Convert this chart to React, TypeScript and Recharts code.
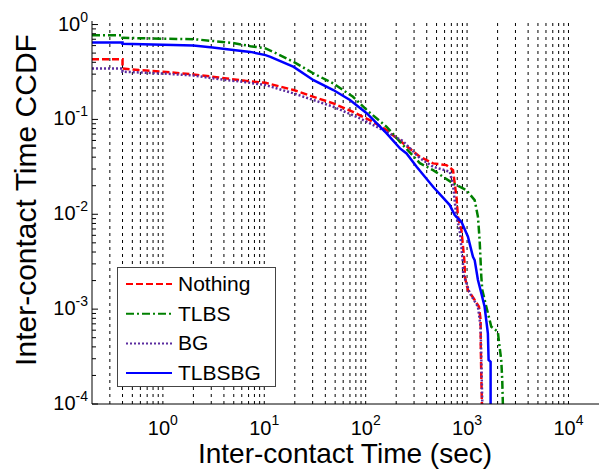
import React from "react";
import { LineChart, Line, XAxis, YAxis, ReferenceLine, Legend, Label } from "recharts";

// [inter-contact time (sec), CCDF]
const nothing = [
  [0.2, 0.432], [0.4, 0.432], [0.4, 0.344], [0.58, 0.331], [1, 0.318], [2, 0.298],
  [3.55, 0.277], [6.5, 0.255], [10.3, 0.243], [11.5, 0.236], [19.5, 0.204], [30.6, 0.173],
  [48, 0.1475], [75, 0.12], [118, 0.0944], [161, 0.0771], [218, 0.0595], [342, 0.0404],
  [462, 0.0344], [626, 0.033], [727, 0.0292], [755, 0.0212], [785, 0.0153], [813, 0.0094],
  [879, 0.00682], [946, 0.00304], [950, 0.00219], [1020, 0.00159], [1188, 0.00125],
  [1310, 0.00106], [1360, 0.000767], [1365, 0.000402], [1382, 0.000194], [1400, 0.0001],
];

const tlbs = [
  [0.2, 0.773], [0.4, 0.773], [0.4, 0.724], [1, 0.71], [2, 0.702], [4.87, 0.641],
  [7.3, 0.592], [10.3, 0.56], [13, 0.5], [19.5, 0.404], [30.6, 0.305], [48, 0.239],
  [75, 0.173], [103, 0.125], [161, 0.0836], [218, 0.058], [342, 0.0346], [462, 0.0292],
  [727, 0.0212], [984, 0.018], [1188, 0.0141], [1280, 0.0094], [1330, 0.00535],
  [1382, 0.00219], [1413, 0.00159], [1548, 0.00106], [1733, 0.000653], [2011, 0.000578],
  [2090, 0.000402], [2173, 0.000291], [2222, 0.000179], [2254, 0.0001],
];

const bg = [
  [0.2, 0.344], [0.4, 0.344], [0.4, 0.318], [1, 0.305], [2, 0.29], [3.55, 0.266],
  [6.5, 0.247], [10.3, 0.23], [19.5, 0.188], [48, 0.136], [88, 0.1025], [161, 0.074],
  [233, 0.059], [342, 0.0391], [462, 0.0317], [675, 0.0281], [727, 0.0203], [785, 0.0094],
  [845, 0.00682], [911, 0.00304], [915, 0.0024], [1061, 0.00148], [1280, 0.00106],
  [1360, 0.000653], [1413, 0.0001],
];

const tlbsbg = [
  [0.2, 0.648], [0.4, 0.648], [0.4, 0.626], [1, 0.611], [2, 0.602], [3.1, 0.574],
  [5.2, 0.537], [7.3, 0.515], [10.3, 0.476], [11.5, 0.457], [19.5, 0.358], [30.6, 0.259],
  [48, 0.204], [70, 0.16], [103, 0.1156], [161, 0.0712], [218, 0.0495], [253, 0.0438],
  [318, 0.0317], [462, 0.0195], [675, 0.0125], [755, 0.0098], [879, 0.00834],
  [1020, 0.0058], [1143, 0.00356], [1188, 0.00329], [1280, 0.00203], [1382, 0.00147],
  [1489, 0.00106], [1604, 0.000556], [1630, 0.000291], [1706, 0.000278], [1706, 0.0001],
];

const xTicks = [1, 10, 100, 1000, 10000];
const xGrid = [
  0.3, 0.4, 0.5, 0.6, 0.7, 0.8, 0.9, 1, 2, 3, 4, 5, 6, 7, 8, 9,
  10, 20, 30, 40, 50, 60, 70, 80, 90, 100, 200, 300, 400, 500, 600, 700, 800, 900,
  1000, 2000, 3000, 4000, 5000, 6000, 7000, 8000, 9000, 10000,
];
const yMajor = [0.0001, 0.001, 0.01, 0.1, 1];
const yAll = [
  0.0001, 0.0002, 0.0003, 0.0004, 0.0005, 0.0006, 0.0007, 0.0008, 0.0009,
  0.001, 0.002, 0.003, 0.004, 0.005, 0.006, 0.007, 0.008, 0.009,
  0.01, 0.02, 0.03, 0.04, 0.05, 0.06, 0.07, 0.08, 0.09,
  0.1, 0.2, 0.3, 0.4, 0.5, 0.6, 0.7, 0.8, 0.9, 1,
];

const X_DOMAIN = [0.2, 20000];
const Y_DOMAIN = [0.0001, 1.09];
const FONT = '"Liberation Sans", Arial, sans-serif';

const series = [
  { name: "Nothing", data: nothing, color: "#ff0000", dash: "7 3" },
  { name: "TLBS", data: tlbs, color: "#008000", dash: "8 3 2 3" },
  { name: "BG", data: bg, color: "#5b2c9f", dash: "2 2" },
  { name: "TLBSBG", data: tlbsbg, color: "#0000ff", dash: undefined },
];

const toPoints = (arr: number[][]) => arr.map(([t, p]) => ({ t, p }));

const isMajor = (v: number) => yMajor.some((m) => Math.abs(m - v) < m * 1e-6);

function XTick({ x, y, payload }: any) {
  const exp = Math.round(Math.log10(payload.value));
  return (
    <text x={x} y={y + 31} textAnchor="middle" fontFamily={FONT} fontSize={20} fill="#000">
      <tspan>10</tspan>
      <tspan dy={-10} fontSize={14}>{exp}</tspan>
    </text>
  );
}

function YTickLeft({ x, y, payload }: any) {
  const major = isMajor(payload.value);
  const ax = x + 4;
  const exp = Math.round(Math.log10(payload.value));
  return (
    <g>
      <line x1={ax} x2={ax + (major ? 6 : 4)} y1={y} y2={y} stroke="#000" />
      {major && (
        <text x={x} y={y + 6} textAnchor="end" fontFamily={FONT} fontSize={20} fill="#000">
          <tspan>10</tspan>
          <tspan dy={-9} fontSize={14}>{exp}</tspan>
        </text>
      )}
    </g>
  );
}

function YTickRight({ x, y, payload }: any) {
  const major = isMajor(payload.value);
  return <line x1={x} x2={x - (major ? 6 : 4)} y1={y} y2={y} stroke="#000" />;
}

function LegendBox() {
  return (
    <div
      style={{
        width: 159,
        height: 120,
        boxSizing: "border-box",
        border: "1px solid #444",
        background: "#fff",
      }}
    >
      <svg width={157} height={118}>
        {series.map((s, i) => {
          const cy = 16 + i * 29.7;
          return (
            <g key={s.name}>
              <line x1={8} x2={54} y1={cy} y2={cy} stroke={s.color} strokeWidth={2} strokeDasharray={s.dash} />
              <text x={60} y={cy + 7} fontFamily={FONT} fontSize={21} fill="#000">
                {s.name}
              </text>
            </g>
          );
        })}
      </svg>
    </div>
  );
}

export default function App() {
  return (
    <div style={{ position: "absolute", left: 0, top: 0, width: 601, height: 471, background: "#fff" }}>
      <LineChart width={601} height={471} margin={{ top: 21, right: 2, bottom: 0, left: 0 }}>
        <XAxis
          dataKey="t"
          type="number"
          scale="log"
          domain={X_DOMAIN}
          allowDataOverflow
          ticks={xTicks}
          tick={<XTick />}
          tickLine={false}
          tickSize={0}
          tickMargin={0}
          height={67}
          axisLine={{ stroke: "#000" }}
        >
          <Label
            content={() => (
              <text x={345} y={463} textAnchor="middle" fontFamily={FONT} fontSize={28} fill="#000">
                Inter-contact Time (sec)
              </text>
            )}
          />
        </XAxis>
        <XAxis
          xAxisId="top"
          orientation="top"
          type="number"
          scale="log"
          domain={X_DOMAIN}
          allowDataOverflow
          ticks={xTicks}
          tick={false}
          tickLine={false}
          height={0}
          axisLine={{ stroke: "#000" }}
        />
        <YAxis
          dataKey="p"
          type="number"
          scale="log"
          domain={Y_DOMAIN}
          allowDataOverflow
          ticks={yAll}
          interval={0}
          tick={<YTickLeft />}
          tickLine={false}
          tickSize={0}
          tickMargin={4}
          width={92}
          axisLine={{ stroke: "#000" }}
        >
          <Label
            content={() => (
              <text
                transform="translate(36,200) rotate(-90)"
                textAnchor="middle"
                fontFamily={FONT}
                fontSize={30}
                fill="#000"
              >
                Inter-contact Time CCDF
              </text>
            )}
          />
        </YAxis>
        <YAxis
          yAxisId="right"
          orientation="right"
          type="number"
          scale="log"
          domain={Y_DOMAIN}
          allowDataOverflow
          ticks={yAll}
          interval={0}
          tick={<YTickRight />}
          tickLine={false}
          tickSize={0}
          tickMargin={0}
          width={0}
          axisLine={{ stroke: "#000" }}
        />
        {xGrid.map((g) => (
          <ReferenceLine key={g} x={g} stroke="#000" strokeDasharray="3 4" strokeWidth={1} />
        ))}
        {series.map((s) => (
          <Line
            key={s.name}
            name={s.name}
            data={toPoints(s.data)}
            dataKey="p"
            type="linear"
            stroke={s.color}
            strokeWidth={2.5}
            strokeDasharray={s.dash}
            dot={false}
            activeDot={false}
            isAnimationActive={false}
          />
        ))}
        <Legend
          layout="vertical"
          align="center"
          verticalAlign="middle"
          wrapperStyle={{ left: 117, top: 267, width: 159, height: 120 }}
          content={() => <LegendBox />}
        />
      </LineChart>
    </div>
  );
}
